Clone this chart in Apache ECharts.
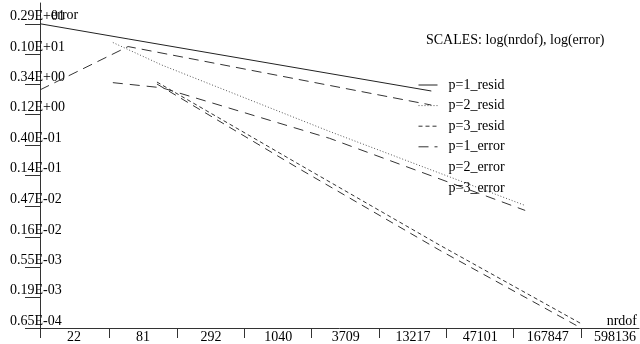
<!DOCTYPE html>
<html>
<head>
<meta charset="utf-8">
<script src="https://cdn.jsdelivr.net/npm/echarts@6/dist/echarts.min.js"></script>
<style>
html, body { margin: 0; padding: 0; background: #fff; }
#main { width: 640px; height: 344px; }
</style>
</head>
<body>
<div id="main"></div>
<script>
// tick labels, as printed
var xTickLabels = ['22', '81', '292', '1040', '3709', '13217', '47101', '167847', '598136'];
var yTickLabels = ['0.65E-04', '0.19E-03', '0.55E-03', '0.16E-02', '0.47E-02', '0.14E-01',
                   '0.40E-01', '0.12E+00', '0.34E+00', '0.10E+01', '0.29E+01'];

// p=1 run
var p1Nrdof = [22, 116, 35500];
var p1Resid = [2.9, 1.70, 0.272];
var p1Error = [0.283, 1.30, 0.166];

// p=2 run
var p2Nrdof = [87, 219, 5195, 208700];
var p2Resid = [1.50, 0.679, 0.0656, 0.00484];
var p2Error = [0.365, 0.305, 0.0515, 0.00407];

// p=3 run
var p3Nrdof = [200, 2952, 41270, 598136];
var p3Resid = [0.373, 0.0204, 0.00121, 0.000076];
var p3Error = [0.348, 0.0175, 0.00101, 0.000065];

var FONT = 'Liberation Serif';

function pairs(xs, ys) {
    return xs.map(function (x, i) { return [x, ys[i]]; });
}

function nearestLabel(labels, v) {
    var best = labels[0], d = Infinity;
    labels.forEach(function (s) {
        var dd = Math.abs(Math.log(Number(s)) - Math.log(v));
        if (dd < d) { d = dd; best = s; }
    });
    return best;
}

function lineSeries(name, data, type, color) {
    return {
        name: name,
        type: 'line',
        symbol: 'none',
        data: data,
        lineStyle: { color: color || '#333', width: 1, type: type },
        emphasis: { disabled: true }
    };
}

var myChart = echarts.init(document.getElementById('main'));

myChart.setOption({
    animation: false,
    textStyle: { fontFamily: FONT, fontSize: 14, color: '#000' },
    title: {
        text: 'SCALES: log(nrdof), log(error)',
        left: 426,
        top: 33,
        padding: 0,
        textStyle: { fontFamily: FONT, fontSize: 14, fontWeight: 'normal', color: '#000' }
    },
    legend: {
        orient: 'vertical',
        left: 418,
        top: 78,
        padding: 0,
        itemWidth: 19,
        itemHeight: 14,
        itemGap: 6.6,
        itemStyle: { color: 'rgba(0,0,0,0)', borderWidth: 0 },
        lineStyle: { width: 1 },
        textStyle: { fontFamily: FONT, fontSize: 14, color: '#000', padding: [0, 0, 0, 6] },
        data: [
            { name: 'p=1_resid' },
            { name: 'p=2_resid' },
            { name: 'p=3_resid' },
            { name: 'p=1_error' },
            { name: 'p=2_error', lineStyle: { color: 'rgba(0,0,0,0)' } },
            { name: 'p=3_error', lineStyle: { color: 'rgba(0,0,0,0)' } }
        ]
    },
    grid: { left: 40, right: 0, top: 3, bottom: 12 },
    xAxis: {
        type: 'log',
        min: 22,
        max: 1.788e6,
        name: 'nrdof',
        nameLocation: 'end',
        nameGap: -2,
        nameMoveOverlap: false,
        nameTextStyle: { fontFamily: FONT, fontSize: 14, color: '#000', align: 'right', verticalAlign: 'bottom' },
        axisLine: { lineStyle: { color: '#333', width: 1 } },
        axisTick: {
            length: 10,
            lineStyle: { color: '#333' },
            customValues: xTickLabels.map(Number)
        },
        axisLabel: {
            margin: 2,
            color: '#000',
            fontFamily: FONT,
            fontSize: 14,
            align: 'center',
            padding: [0, 0, 0, 68],
            customValues: xTickLabels.map(Number),
            formatter: function (v) { return nearestLabel(xTickLabels, v); }
        },
        splitLine: { show: false }
    },
    yAxis: {
        type: 'log',
        min: 6.5e-5,
        max: 6.02,
        name: 'error',
        nameLocation: 'end',
        nameGap: -12,
        nameMoveOverlap: false,
        nameTextStyle: { fontFamily: FONT, fontSize: 14, color: '#000', align: 'left', verticalAlign: 'middle', padding: [0, 0, 0, 11] },
        axisLine: { lineStyle: { color: '#333', width: 1 } },
        axisTick: {
            length: 15,
            lineStyle: { color: '#333' },
            customValues: yTickLabels.map(Number)
        },
        axisLabel: {
            margin: 30,
            color: '#000',
            fontFamily: FONT,
            fontSize: 14,
            align: 'left',
            verticalAlign: 'bottom',
            padding: [0, 0, 0, 0],
            customValues: yTickLabels.map(Number),
            formatter: function (v) { return nearestLabel(yTickLabels, v); }
        },
        splitLine: { show: false }
    },
    series: [
        lineSeries('p=1_resid', pairs(p1Nrdof, p1Resid), 'solid', '#222'),
        lineSeries('p=2_resid', pairs(p2Nrdof, p2Resid), [1, 2], '#555'),
        lineSeries('p=3_resid', pairs(p3Nrdof, p3Resid), [4, 3]),
        lineSeries('p=1_error', pairs(p1Nrdof, p1Error), [10, 6]),
        lineSeries('p=2_error', pairs(p2Nrdof, p2Error), [10, 7]),
        lineSeries('p=3_error', pairs(p3Nrdof, p3Error), [8, 6])
    ]
});
</script>
</body>
</html>
